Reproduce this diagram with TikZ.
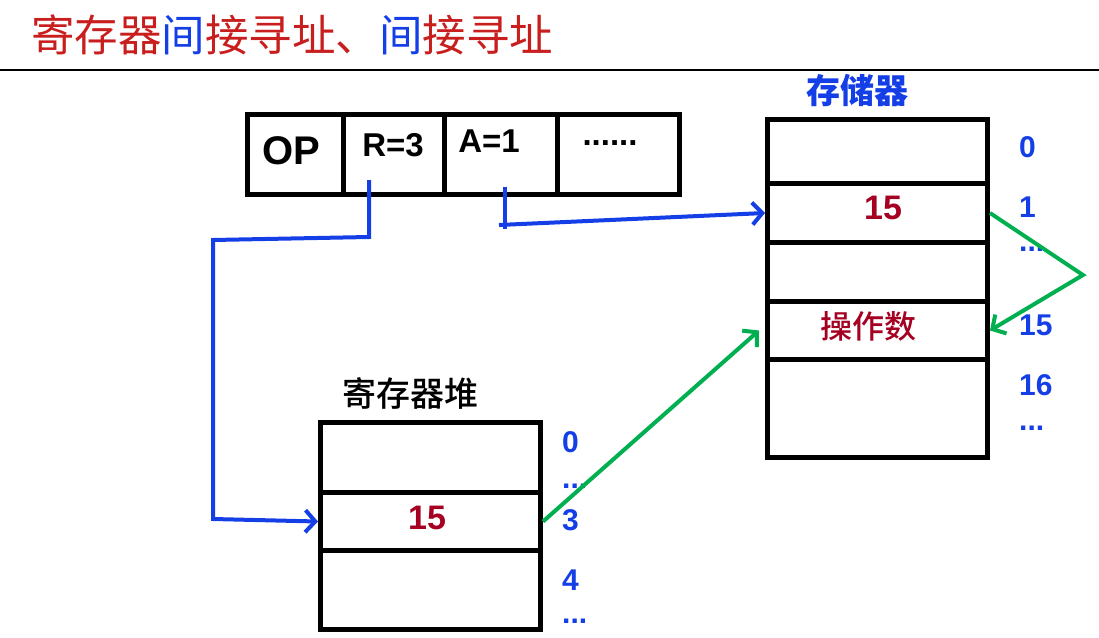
\documentclass[tikz,border=0pt]{standalone}
\usepackage{fontspec}
\setmainfont{Liberation Sans}
\newfontfamily\cjk{Noto Sans CJK SC}
\newfontfamily\cjkm{Noto Sans CJK SC Medium}
\usetikzlibrary{arrows.meta}
\definecolor{lblue}{RGB}{20,62,230}
\definecolor{lgreen}{RGB}{0,176,80}
\definecolor{dred}{RGB}{165,0,33}
\definecolor{tred}{RGB}{200,30,30}
\tikzset{
  cell/.style={draw=black, line width=5pt, anchor=north west, inner sep=0pt, fill=white},
  bigtxt/.style={font=\bfseries\fontsize{40}{40}\selectfont, inner sep=0pt},
  fldtxt/.style={font=\bfseries\fontsize{33}{33}\selectfont, inner sep=0pt},
  idx/.style={font=\bfseries\fontsize{30}{30}\selectfont, text=lblue, anchor=west, inner sep=0pt},
  val/.style={font=\bfseries\fontsize{34}{34}\selectfont, text=dred, inner sep=0pt},
  bluearrow/.style={draw=lblue, line width=4pt, -{Straight Barb[length=10pt,width=22pt,line width=4pt]}},
  blueline/.style={draw=lblue, line width=4pt},
  greenarrow/.style={draw=lgreen, line width=4pt, -{Straight Barb[length=10pt,width=22pt,line width=4pt]}},
}
\begin{document}
\begin{tikzpicture}[x=1pt,y=-1pt]
\useasboundingbox (0,0) rectangle (1099,637);
% title
\node[anchor=west, inner sep=0pt, font=\cjk\fontsize{43.5}{43.5}\selectfont] (title) at (31,35)
  {\textcolor{tred}{寄存器}\textcolor{lblue}{间}\textcolor{tred}{接寻址、}\textcolor{lblue}{间}\textcolor{tred}{接寻址}};
\draw[line width=2.5pt] (0,70) coordinate (hl) -- (1099,70) coordinate (hr);
% instruction
\node[cell, minimum width=96pt, minimum height=80pt] (op) at (245,112) {};
\node[cell, minimum width=101pt, minimum height=80pt] (rf) at (341,112) {};
\node[cell, minimum width=113pt, minimum height=80pt] (af) at (442,112) {};
\node[cell, minimum width=122pt, minimum height=80pt] (df) at (555,112) {};
\node[bigtxt] (optxt) at (291,151) {OP};
\node[fldtxt] (rtxt) at (393,145) {R=3};
\node[fldtxt] (atxt) at (489,141) {A=1};
\node[fldtxt] (dtxt) at (610,143) {......};
% memory
\node[inner sep=0pt, font=\cjk\bfseries\fontsize{34}{34}\selectfont, text=lblue] (memtitle) at (857,90) {存储器};
\node[cell, minimum width=220pt, minimum height=64pt] (m0) at (765,117) {};
\node[cell, minimum width=220pt, minimum height=59pt] (m1) at (765,181) {};
\node[cell, minimum width=220pt, minimum height=59pt] (m2) at (765,240) {};
\node[cell, minimum width=220pt, minimum height=58pt] (m3) at (765,299) {};
\node[cell, minimum width=220pt, minimum height=98pt] (m4) at (765,357) {};
\node[val] (m1v) at (883,208) {15};
\node[val, font=\cjkm\fontsize{32}{32}\selectfont] (m3v) at (868,326) {操作数};
\node[idx] (i0) at (1019,147) {0};
\node[idx] (i1) at (1019,207) {1};
\node[idx] (id1) at (1019,249) {...};
\node[idx] (i15) at (1019,325) {15};
\node[idx] (i16) at (1019,385) {16};
\node[idx] (id2) at (1019,428) {...};
% register stack
\node[inner sep=0pt, font=\cjkm\fontsize{34}{34}\selectfont] (regtitle) at (410,393) {寄存器堆};
\node[cell, minimum width=220pt, minimum height=70pt] (r0) at (318,420) {};
\node[cell, minimum width=220pt, minimum height=58pt] (r1) at (318,490) {};
\node[cell, minimum width=220pt, minimum height=79pt] (r2) at (318,548) {};
\node[val] (r1v) at (427,518) {15};
\node[idx] (j0) at (562,442) {0};
\node[idx] (jd1) at (562,486) {...};
\node[idx] (j3) at (562,520) {3};
\node[idx] (j4) at (562,580) {4};
\node[idx] (jd2) at (562,621) {...};
% blue connectors
\coordinate (rs) at (369,180);
\coordinate (as) at (505,187);
\coordinate (ae) at (505,229);
\coordinate (ab) at (499,225);
\draw[bluearrow, line join=miter] (rs) -- (369,237) -- (213,240) -- (213,519) -- (r1.west);
\draw[blueline] (as) -- (ae);
\draw[bluearrow] (ab) -- (m1.west);
% green connectors
\coordinate (gt) at (1083,275);
\draw[greenarrow] (r1.east) -- ([xshift=-6pt]m3.west);
\draw[greenarrow, line join=miter] (m1.east) -- (gt) -- (m3.east);
\end{tikzpicture}
\end{document}
